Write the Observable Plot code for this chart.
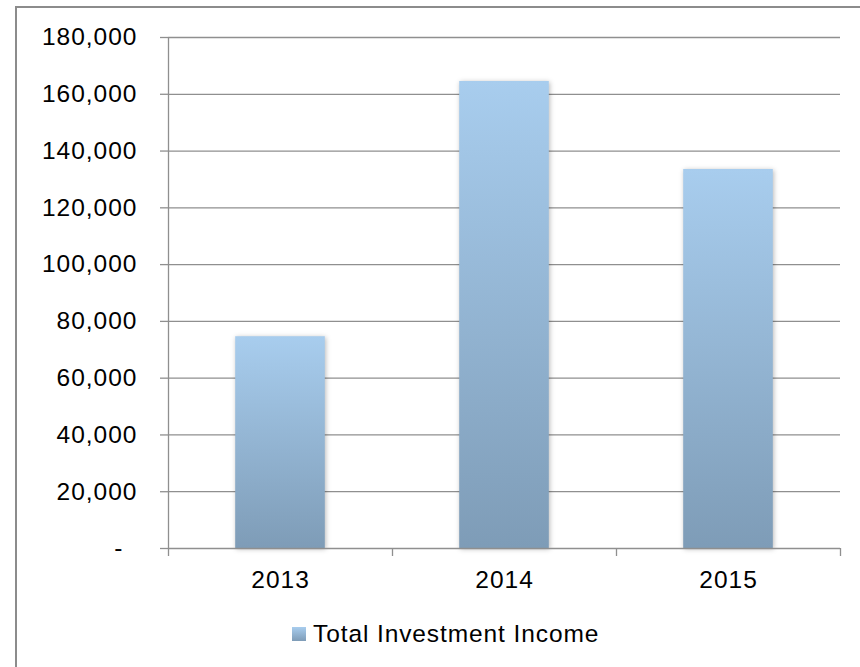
<!DOCTYPE html>
<html>
<head>
<meta charset="utf-8">
<script src="https://cdn.jsdelivr.net/npm/d3@7"></script>
<script src="https://cdn.jsdelivr.net/npm/@observablehq/plot@0.6"></script>
<style>
  html, body { margin: 0; padding: 0; background: #fff; width: 860px; height: 667px; overflow: hidden; }
  #frame { position: absolute; left: 15px; top: 6px; width: 900px; height: 700px;
           border-top: 2px solid #8c8c8c; border-left: 2px solid #8c8c8c; }
  #chart { position: absolute; left: 0; top: 0; }
  #chart text { letter-spacing: 1px; }
  #chart g[aria-label="rect"] rect { filter: drop-shadow(1px 1px 2.5px rgba(0,0,0,0.28)); }
  #legend { position: absolute; left: 292px; top: 619px; height: 30px; display: flex; align-items: center;
            font-family: "Liberation Sans", Arial, sans-serif; font-size: 24.5px; letter-spacing: 0.9px; color: #000; }
  #legend .sw { width: 14px; height: 14px; margin-right: 7px; background: linear-gradient(#a8cdee, #7e9cb7); }
</style>
</head>
<body>
<div id="frame"></div>
<div id="chart"></div>
<div id="legend"></div>
<script>
const years = ["2013", "2014", "2015"];
const income = [74600, 164500, 133500];
const yTicks = [0, 20000, 40000, 60000, 80000, 100000, 120000, 140000, 160000, 180000];
const seriesName = "Total Investment Income";

const data = years.map((year, i) => ({i, year, value: income[i]}));
const boundaries = years.map((d, i) => i - 0.5).concat([years.length - 0.5]);
const gray = "#8f8f8f";

const gradientDefs = () => {
  const defs = d3.create("svg:defs");
  const g = defs.append("linearGradient").attr("id", "barGrad")
    .attr("x1", 0).attr("y1", 0).attr("x2", 0).attr("y2", 1);
  g.append("stop").attr("offset", "0%").attr("stop-color", "#a8cdee");
  g.append("stop").attr("offset", "100%").attr("stop-color", "#7e9cb7");
  return defs.node();
};

const chart = Plot.plot({
  width: 860,
  height: 600,
  marginLeft: 168,
  marginRight: 20,
  marginTop: 37,
  marginBottom: 52,
  style: {fontFamily: "'Liberation Sans', Arial, sans-serif", fontSize: "24.5px", color: "#000", background: "transparent", overflow: "visible"},
  x: {type: "linear", domain: [-0.5, years.length - 0.5], axis: null},
  y: {domain: [0, 180000], axis: null},
  marks: [
    gradientDefs,
    Plot.ruleY(yTicks.filter(d => d > 0), {stroke: gray, strokeWidth: 1.3}),
    Plot.rectY(data, {x1: d => d.i - 0.2, x2: d => d.i + 0.2, y: "value", fill: "url(#barGrad)"}),
    Plot.ruleY([0], {stroke: gray, strokeWidth: 1.3}),
    Plot.ruleX([-0.5], {y1: 0, y2: 180000, stroke: gray, strokeWidth: 1.3}),
    Plot.axisY({ticks: yTicks.filter(d => d > 0), label: null, tickSize: 8, tickPadding: 23, tickFormat: d3.format(","), stroke: gray, strokeWidth: 1.3, fill: "#000"}),
    Plot.axisY({ticks: [0], label: null, tickSize: 8, tickPadding: 37, tickFormat: () => "-", stroke: gray, strokeWidth: 1.3, fill: "#000"}),
    Plot.axisX({ticks: boundaries, label: null, tickSize: 8, tickFormat: () => "", stroke: gray, strokeWidth: 1.3}),
    Plot.axisX({ticks: years.map((d, i) => i), label: null, tickSize: 0, tickPadding: 22, tickFormat: i => years[i], fill: "#000"})
  ]
});
document.getElementById("chart").appendChild(chart);

const legend = document.getElementById("legend");
const sw = document.createElement("span");
sw.className = "sw";
const lbl = document.createElement("span");
lbl.textContent = seriesName;
legend.appendChild(sw);
legend.appendChild(lbl);
</script>
</body>
</html>
